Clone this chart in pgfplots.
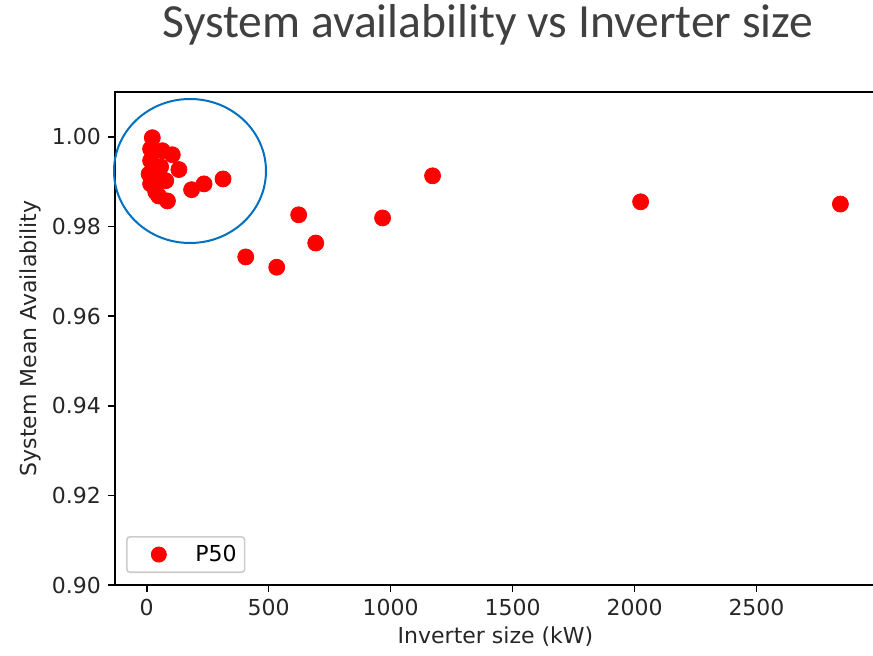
\documentclass[border=0pt]{standalone}
\usepackage{pgfplots}
\pgfplotsset{compat=1.18}
\usepackage{fontspec}
\setmainfont{DejaVu Sans}
\newfontfamily\titlefont{Carlito}
\definecolor{circblue}{RGB}{0,112,192}
\definecolor{titlegray}{RGB}{64,64,64}
\begin{document}
\begin{tikzpicture}
\begin{axis}[
  scale only axis, width=380.5pt, height=246.5pt,
  at={(0pt,0pt)}, anchor=south west,
  xmin=-130, xmax=2990, ymin=0.90, ymax=1.01,
  xtick={0,500,1000,1500,2000,2500},
  ytick={0.90,0.92,0.94,0.96,0.98,1.00},
  tick align=outside, xtick pos=bottom, ytick pos=left,
  major tick length=3.5pt,
  tick style={black, line width=0.8pt},
  axis line style={line width=0.8pt},
  /pgf/number format/assume math mode=true,
  ticklabel style={font=\fontsize{11}{13}\selectfont, text=black!85},
  yticklabel style={/pgf/number format/.cd, fixed, fixed zerofill, precision=2},
  xticklabel style={/pgf/number format/1000 sep={}},
  xlabel={Inverter size (kW)}, ylabel={System Mean Availability},
  every axis x label/.style={at={(axis description cs:0.5,0)}, yshift=-26pt, anchor=center, font=\fontsize{11}{13}\selectfont, text=black!85},
  every axis y label/.style={at={(axis description cs:-0.1117,0.5)}, rotate=90, anchor=center, font=\fontsize{11}{13}\selectfont, text=black!85},
  legend style={at={(axis description cs:0.0145,0.0243)}, anchor=south west,
    draw=black!20, rounded corners=1.5pt, line width=0.8pt,
    inner xsep=2pt, inner ysep=2pt,
    font=\fontsize{11}{13}\selectfont},
  legend image code/.code={\path[draw=none,fill=none] (0pt,-4pt) rectangle (30.3pt,4pt); \fill[red,draw=none] (14pt,0pt) circle (4pt);},
]
\addplot[only marks, mark=*, mark size=4pt, mark options={fill=red, draw=red}] coordinates {
(23,0.9998) (16,0.9973) (64,0.9969) (105,0.9960) (16,0.9947) (57,0.9933)
(132,0.9927) (10,0.9917) (50,0.9917) (78,0.9902) (16,0.9895) (37,0.9877)
(49,0.9868) (85,0.9857) (184,0.9882) (235,0.9895) (313,0.9906)
(406,0.9732) (533,0.9709) (623,0.9826) (693,0.9763) (967,0.9819)
(1172,0.9913) (2025,0.9855) (2844,0.9850)
};
\addlegendentry{P50}
\end{axis}
\draw[circblue, line width=1pt] (37.5pt,207pt) ellipse [x radius=38pt, y radius=36pt];
\node[anchor=base, text=titlegray, font=\titlefont\fontsize{23.8}{28}\selectfont, inner sep=0pt] at (186.5pt,274pt) {System availability vs Inverter size};
\pgfresetboundingbox
\path[use as bounding box] (-57.5pt,-35pt) rectangle (379pt,292.5pt);
\end{tikzpicture}
\end{document}
